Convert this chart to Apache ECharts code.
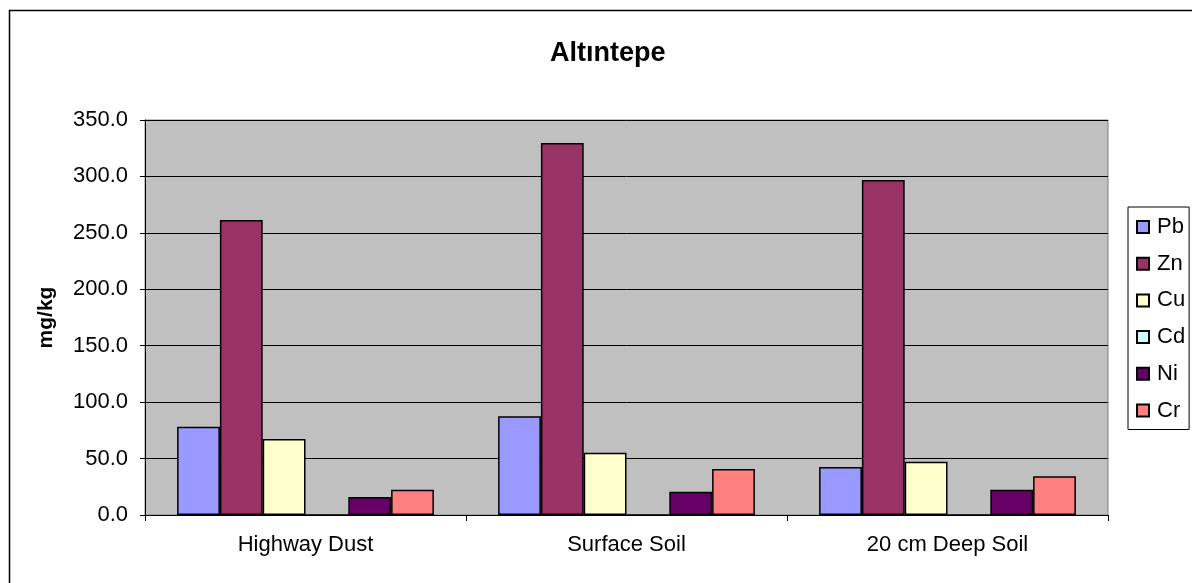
<!DOCTYPE html>
<html>
<head>
<meta charset="utf-8">
<script src="https://cdn.jsdelivr.net/npm/echarts@6/dist/echarts.min.js"></script>
<style>html,body{margin:0;padding:0;background:#fff;}#c{width:1192px;height:583px;}</style>
</head>
<body>
<div id="c"></div>
<script>
const categories = ['Highway Dust', 'Surface Soil', '20 cm Deep Soil'];
const seriesNames = ['Pb', 'Zn', 'Cu', 'Cd', 'Ni', 'Cr'];
const Pb = [78.3, 87.4, 42.5];
const Zn = [261.4, 329.6, 296.8];
const Cu = [67.3, 55.2, 47.2];
const Cd = [0, 0, 0];
const Ni = [16.0, 20.7, 22.4];
const Cr = [22.4, 40.8, 34.3];
const seriesData = [Pb, Zn, Cu, Cd, Ni, Cr];
const colors = ['#9999FF', '#993366', '#FFFFCC', '#CCFFFF', '#660066', '#FF8080'];
const yTicks = { min: 0, max: 350, interval: 50 };

const chart = echarts.init(document.getElementById('c'), null, { renderer: 'canvas' });
const font = 'Liberation Sans, Arial, sans-serif';
chart.setOption({
  animation: false,
  backgroundColor: '#ffffff',
  graphic: [
    { type: 'rect', left: 7, top: 8, shape: { x: 0, y: 0, width: 1200, height: 600 },
      style: { fill: 'none', stroke: '#000', lineWidth: 1.5 }, z: -10, silent: true }
  ],
  title: {
    text: 'Altıntepe', left: 545, top: 35,
    textStyle: { fontFamily: font, fontSize: 27, fontWeight: 'bold', color: '#000' }
  },
  legend: {
    orient: 'vertical', left: 1128, top: 207,
    data: seriesNames,
    itemWidth: 12, itemHeight: 12, itemGap: 14.7,
    borderColor: '#000', borderWidth: 1, padding: [9, 4, 8, 8],
    textStyle: { fontFamily: font, fontSize: 22, color: '#000', lineHeight: 22, padding: [0, 0, 0, 3] },
    icon: 'rect'
  },
  grid: { left: 145, top: 120, right: 84, bottom: 68, show: true, backgroundColor: '#C0C0C0', borderColor: '#808080', borderWidth: 1 },
  xAxis: {
    type: 'category', data: categories,
    axisLine: { lineStyle: { color: '#000', width: 1 } },
    axisTick: { show: true, length: 6, lineStyle: { color: '#000' } },
    axisLabel: { fontFamily: font, fontSize: 22, color: '#000', margin: 19 }
  },
  yAxis: {
    type: 'value', min: yTicks.min, max: yTicks.max, interval: yTicks.interval,
    name: 'mg/kg', nameLocation: 'middle', nameGap: 88, nameRotate: 90,
    nameTextStyle: { fontFamily: font, fontSize: 21, fontWeight: 'bold', color: '#000' },
    axisLine: { show: true, lineStyle: { color: '#000', width: 1 } },
    axisTick: { show: true, length: 5, lineStyle: { color: '#000' } },
    splitLine: { show: true, lineStyle: { color: '#000', width: 1 } },
    axisLabel: { fontFamily: font, fontSize: 22, color: '#000', margin: 17, formatter: v => v.toFixed(1) }
  },
  series: seriesNames.map((n, i) => ({
    name: n, type: 'bar', data: seriesData[i],
    barGap: '0%', barCategoryGap: '20%',
    itemStyle: { color: colors[i], borderColor: '#000', borderWidth: 1.5 }
  }))
});
</script>
</body>
</html>
